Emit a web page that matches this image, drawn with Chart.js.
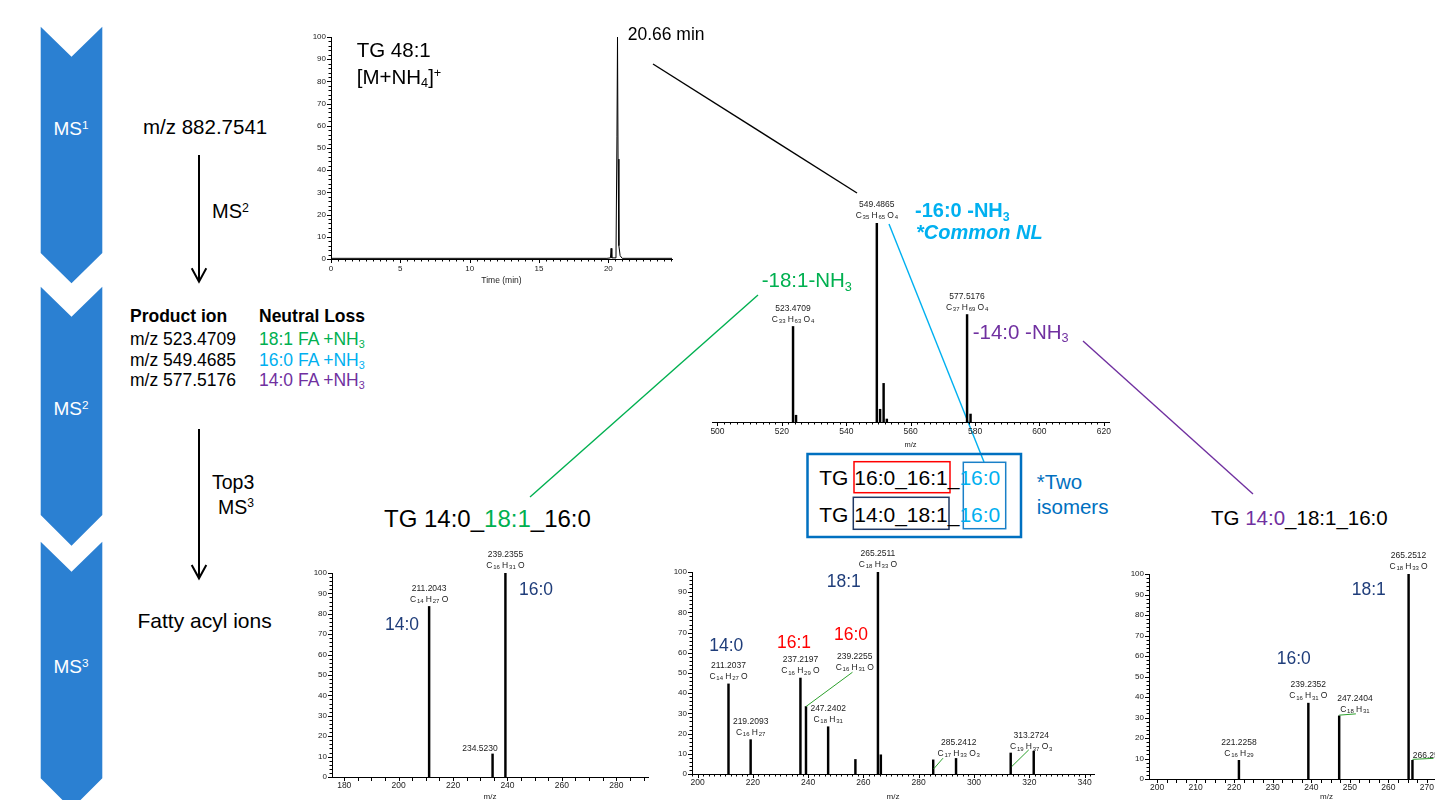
<!DOCTYPE html>
<html>
<head>
<meta charset="utf-8">
<script src="https://cdn.jsdelivr.net/npm/chart.js@4.4.1/dist/chart.umd.min.js"></script>
<style>
  body { margin: 0; background: #fff; }
  #fig { position: relative; width: 1435px; height: 800px; overflow: hidden;
         font-family: "Liberation Sans", Arial, sans-serif; }
  .t { position: absolute; white-space: nowrap; line-height: 1; color: #000; }
  canvas { position: absolute; }
  svg { position: absolute; left: 0; top: 0; }
  sub, sup { font-size: 0.62em; vertical-align: baseline; position: relative; }
  sub { top: 0.3em; }
  sup { top: -0.5em; }
  .w { color: #fff; width: 62px; text-align: center; left: 40px; }
  .g { color: #00b050; }
  .lb { color: #00b0f0; }
  .pu { color: #7030a0; }
  .nv { color: #1f3d7a; }
  .rd { color: #ff0000; }
  .bl { color: #0070c0; }
</style>
</head>
<body>
<div id="fig">
  <svg width="1435" height="800">
    <!-- workflow chevrons -->
    <polygon fill="#2b80d2" points="40.7,26.7 71.5,56.7 102.3,26.7 102.3,253 71.5,283.3 40.7,253"/>
    <polygon fill="#2b80d2" points="40.7,286.7 71.5,316.7 102.3,286.7 102.3,515 71.5,545.7 40.7,515"/>
    <polygon fill="#2b80d2" points="40.7,541.7 71.5,571.7 102.3,541.7 102.3,778.3 71.5,809 40.7,778.3"/>
    <!-- arrows -->
    <g stroke="#000" stroke-width="2" fill="none">
      <line x1="199" y1="155" x2="199" y2="281"/>
      <polyline points="191.7,268.3 199,281.7 206.3,268.3"/>
      <line x1="199" y1="429" x2="199" y2="578"/>
      <polyline points="191.7,565 199,578.3 206.3,565"/>
    </g>
    <!-- connectors -->
    <line x1="653" y1="64" x2="857" y2="193" stroke="#000" stroke-width="1.4"/>
    <line x1="889" y1="224" x2="984" y2="462" stroke="#00b0f0" stroke-width="1.4"/>
    <line x1="758" y1="295" x2="530" y2="497" stroke="#00b050" stroke-width="1.4"/>
    <line x1="1083" y1="341" x2="1253" y2="494" stroke="#7030a0" stroke-width="1.4"/>
    <!-- isomer box -->
    <rect x="807.5" y="454" width="213.5" height="83" fill="none" stroke="#0070c0" stroke-width="2.5"/>
    <rect x="854" y="461.7" width="96" height="31" fill="none" stroke="#ff0000" stroke-width="1.5"/>
    <rect x="853.3" y="497.3" width="95.7" height="32" fill="none" stroke="#1f3864" stroke-width="1.5"/>
    <rect x="963.3" y="462.3" width="42.4" height="66.4" fill="none" stroke="#1a80c8" stroke-width="1.5"/>
  </svg>

  <canvas id="rtChart" width="383" height="262" style="left:301px;top:27px"></canvas>
  <canvas id="ms2Chart" width="419" height="257" style="left:702px;top:193px"></canvas>
  <canvas id="ms3aChart" width="358" height="269" style="left:302px;top:538px"></canvas>
  <canvas id="ms3bChart" width="444" height="267" style="left:662px;top:537px"></canvas>
  <canvas id="ms3cChart" width="397" height="270" style="left:1119px;top:539px"></canvas>

  <!-- chevron labels -->
  <div class="t w" style="top:119px;font-size:19px">MS<sup>1</sup></div>
  <div class="t w" style="top:399px;font-size:19px">MS<sup>2</sup></div>
  <div class="t w" style="top:657px;font-size:19px">MS<sup>3</sup></div>

  <!-- workflow text -->
  <div class="t" style="left:143px;top:116.5px;font-size:20.5px">m/z 882.7541</div>
  <div class="t" style="left:212px;top:201px;font-size:20px">MS<sup>2</sup></div>
  <div class="t" style="left:130px;top:308px;font-size:17.5px;font-weight:bold">Product ion</div>
  <div class="t" style="left:259px;top:308px;font-size:17.5px;font-weight:bold">Neutral Loss</div>
  <div class="t" style="left:130px;top:331px;font-size:17.5px">m/z 523.4709</div>
  <div class="t" style="left:130px;top:351.5px;font-size:17.5px">m/z 549.4685</div>
  <div class="t" style="left:130px;top:372px;font-size:17.5px">m/z 577.5176</div>
  <div class="t g" style="left:259px;top:331px;font-size:17.5px">18:1 FA +NH<sub>3</sub></div>
  <div class="t lb" style="left:259px;top:351.5px;font-size:17.5px">16:0 FA +NH<sub>3</sub></div>
  <div class="t pu" style="left:259px;top:372px;font-size:17.5px">14:0 FA +NH<sub>3</sub></div>
  <div class="t" style="left:212px;top:473px;font-size:19.5px">Top3</div>
  <div class="t" style="left:218px;top:497.5px;font-size:19.5px">MS<sup>3</sup></div>
  <div class="t" style="left:137.5px;top:609.5px;font-size:21px">Fatty acyl ions</div>

  <!-- chromatogram / MS2 annotations -->
  <div class="t" style="left:356.7px;top:39.8px;font-size:20.5px">TG 48:1</div>
  <div class="t" style="left:356.7px;top:66.5px;font-size:20.5px">[M+NH<sub>4</sub>]<sup>+</sup></div>
  <div class="t" style="left:627.7px;top:26.3px;font-size:17.5px">20.66 min</div>
  <div class="t lb" style="left:915px;top:200px;font-size:20px;font-weight:bold">-16:0 -NH<sub>3</sub></div>
  <div class="t lb" style="left:916px;top:221.7px;font-size:20px;font-weight:bold;font-style:italic">*Common NL</div>
  <div class="t g" style="left:761.7px;top:269.8px;font-size:20.5px">-18:1-NH<sub>3</sub></div>
  <div class="t pu" style="left:972.7px;top:321.5px;font-size:20.5px">-14:0 -NH<sub>3</sub></div>

  <!-- species -->
  <div class="t" style="left:384px;top:507px;font-size:24px">TG 14:0_<span class="g">18:1</span>_16:0</div>
  <div class="t" style="left:1211px;top:508px;font-size:20.5px">TG <span class="pu">14:0</span>_18:1_16:0</div>
  <div class="t" style="left:819.3px;top:467.2px;font-size:21px">TG 16:0_16:1_<span class="lb">16:0</span></div>
  <div class="t" style="left:819.3px;top:503.5px;font-size:21px">TG 14:0_18:1_<span class="lb">16:0</span></div>
  <div class="t bl" style="left:1036.7px;top:471.5px;font-size:20.5px">*Two</div>
  <div class="t bl" style="left:1036.7px;top:496.5px;font-size:20.5px">isomers</div>

  <!-- fatty acyl tags -->
  <div class="t nv" style="left:385px;top:615.5px;font-size:17.5px">14:0</div>
  <div class="t nv" style="left:519px;top:581.3px;font-size:17.5px">16:0</div>
  <div class="t nv" style="left:709.3px;top:637px;font-size:17.5px">14:0</div>
  <div class="t rd" style="left:777px;top:633.6px;font-size:17.5px">16:1</div>
  <div class="t rd" style="left:834px;top:626.3px;font-size:17.5px">16:0</div>
  <div class="t nv" style="left:826.7px;top:573px;font-size:17.5px">18:1</div>
  <div class="t nv" style="left:1351.7px;top:581.3px;font-size:17.5px">18:1</div>
  <div class="t nv" style="left:1276.7px;top:650.3px;font-size:17.5px">16:0</div>
</div>

<script>
// ---- data ----
const rtMin = [0, 19.9, 20.15, 20.2, 20.25, 20.55, 20.62, 20.66, 20.7, 20.76, 20.85, 21.0, 24.59];
const rtInt = [0.3, 0.3, 0.5, 4.8, 0.5, 0.5, 55, 100, 45, 6, 1.5, 0.3, 0.3];
const rtTicks = [0, 5, 10, 15, 20];
const intTicks = [0, 10, 20, 30, 40, 50, 60, 70, 80, 90, 100];

const ms2Mz = [523.47, 524.4, 549.49, 550.5, 551.6, 552.6, 577.52, 578.6];
const ms2Int = [48, 3.4, 100, 6.4, 19.4, 1.5, 54, 4];
const ms2Ticks = [500, 520, 540, 560, 580, 600, 620];
const ms2Labels = [
  { mz: 523.47, mass: '523.4709', formula: 'C33H63O4' },
  { mz: 549.49, mass: '549.4865', formula: 'C35H65O4' },
  { mz: 577.52, mass: '577.5176', formula: 'C37H69O4' }
];

const ms3aMz = [211.20, 234.52, 239.24];
const ms3aInt = [83.6, 11.3, 100];
const ms3aTicks = [180, 200, 220, 240, 260, 280];
const ms3aLabels = [
  { mz: 211.20, mass: '211.2043', formula: 'C14H27O' },
  { mz: 234.52, mass: '234.5230', formula: '' },
  { mz: 239.24, mass: '239.2355', formula: 'C16H31O' }
];

const ms3bMz = [211.20, 219.21, 237.22, 239.23, 247.24, 257.1, 265.25, 266.3, 285.24, 293.5, 313.27, 321.6];
const ms3bInt = [44.6, 17, 47.5, 33.4, 23.4, 7.2, 100, 9.5, 7, 7.7, 10.4, 11.3];
const ms3bTicks = [200, 220, 240, 260, 280, 300, 320, 340];
const ms3bLabels = [
  { mz: 211.20, mass: '211.2037', formula: 'C14H27O' },
  { mz: 219.21, mass: '219.2093', formula: 'C16H27' },
  { mz: 237.22, mass: '237.2197', formula: 'C16H29O' },
  { mz: 239.23, mass: '239.2255', formula: 'C16H31O' },
  { mz: 247.24, mass: '247.2402', formula: 'C18H31' },
  { mz: 265.25, mass: '265.2511', formula: 'C18H33O' },
  { mz: 285.24, mass: '285.2412', formula: 'C17H33O3' },
  { mz: 313.27, mass: '313.2724', formula: 'C19H37O3' }
];

const ms3cMz = [221.23, 239.24, 247.24, 265.25, 266.25];
const ms3cInt = [9.1, 37, 30.8, 100, 9.1];
const ms3cTicks = [200, 210, 220, 230, 240, 250, 260, 270, 280, 290];
const ms3cLabels = [
  { mz: 221.23, mass: '221.2258', formula: 'C16H29' },
  { mz: 239.24, mass: '239.2352', formula: 'C16H31O' },
  { mz: 247.24, mass: '247.2404', formula: 'C18H31' },
  { mz: 265.25, mass: '265.2512', formula: 'C18H33O' },
  { mz: 266.25, mass: '266.2546', formula: '' }
];

// label placement tweaks (pixels), leader lines drawn in green
const labelShift = {
  '239.2255': { dx: 48.8, dy: -32, leader: [0, 0, 46.5, -34.3] },
  '285.2412': { dx: 25.5, dy: 0.3, leader: [0.5, 9, 9.8, -1.7] },
  '313.2724': { dx: 20.5, dy: 1.1, leader: [1.1, 13.5, 18.1, -3.2] },
  '234.5230': { dx: -12.6, dy: 0 },
  '247.2404': { dx: 15.7, dy: 0.3, leader: [0, -0.7, 16.7, -2] },
  '266.2546': { dx: 18, dy: 0, leader: [0, -1, 21, -2] }
};

const FONT = '"Liberation Sans", Arial, sans-serif';
Chart.defaults.font.family = FONT;
Chart.defaults.color = '#222';

function drawFormula(ctx, f, cx, cy) {
  const parts = f.match(/[A-Z][a-z]?|\d+/g);
  const big = '8.5px ' + FONT, small = '6px ' + FONT;
  const ws = [];
  let total = 0;
  parts.forEach((p, i) => {
    const isNum = /\d/.test(p);
    ctx.font = isNum ? small : big;
    const pw = ctx.measureText(p).width;
    let gap = 0;
    if (i < parts.length - 1) gap = isNum ? 2.2 : (/\d/.test(parts[i + 1]) ? 0.8 : 2.2);
    ws.push([pw, gap]);
    total += pw + gap;
  });
  let x = cx - total / 2;
  ctx.textAlign = 'left';
  parts.forEach((p, i) => {
    const isNum = /\d/.test(p);
    ctx.font = isNum ? small : big;
    ctx.fillText(p, x, cy + (isNum ? 1.8 : 0));
    x += ws[i][0] + ws[i][1];
  });
}

function peakLabelPlugin(labels, mzArr, intArr) {
  return {
    id: 'peakLabels',
    afterDatasetsDraw(chart) {
      const { ctx } = chart;
      const xs = chart.scales.x, ys = chart.scales.y;
      ctx.save();
      labels.forEach(l => {
        const i = mzArr.indexOf(l.mz);
        const px = xs.getPixelForValue(l.mz);
        const py = ys.getPixelForValue(intArr[i]);
        const s = labelShift[l.mass] || { dx: 0, dy: 0 };
        if (s.leader) {
          ctx.strokeStyle = '#2ca02c';
          ctx.lineWidth = 1;
          ctx.beginPath();
          ctx.moveTo(px + s.leader[0], py + s.leader[1]);
          ctx.lineTo(px + s.leader[2], py + s.leader[3]);
          ctx.stroke();
        }
        const ax = px + s.dx, ay = py + s.dy;
        ctx.fillStyle = '#222';
        ctx.textBaseline = 'middle';
        ctx.textAlign = 'center';
        ctx.font = '8.5px ' + FONT;
        if (l.formula) {
          ctx.fillText(l.mass, ax, ay - 18);
          drawFormula(ctx, l.formula, ax, ay - 7);
        } else {
          ctx.fillText(l.mass, ax, ay - 5);
        }
      });
      ctx.restore();
    }
  };
}

// major/minor tick marks pointing out of the plot
function tickMarkPlugin(t) {
  return {
    id: 'tickMarks',
    afterDraw(chart) {
      const { ctx, chartArea: a } = chart;
      const xs = chart.scales.x, ys = chart.scales.y;
      ctx.save();
      ctx.strokeStyle = '#000';
      ctx.lineWidth = 1;
      ctx.beginPath();
      const k0 = Math.ceil(xs.min / t.xMinor - 1e-9), k1 = Math.floor(xs.max / t.xMinor + 1e-9);
      for (let k = k0; k <= k1; k++) {
        const v = k * t.xMinor;
        const major = Math.abs(v / t.xMajor - Math.round(v / t.xMajor)) < 1e-6;
        const px = Math.round(xs.getPixelForValue(v)) + 0.5;
        ctx.moveTo(px, a.bottom);
        ctx.lineTo(px, a.bottom + (major ? 4 : t.xMinorLen));
      }
      if (t.yMinor) {
        for (let v = 0; v <= 100; v += t.yMinor) {
          const major = v % 10 === 0;
          const py = Math.round(ys.getPixelForValue(v)) + 0.5;
          ctx.moveTo(a.left, py);
          ctx.lineTo(a.left - (major ? 4 : 2.5), py);
        }
      }
      ctx.stroke();
      ctx.restore();
    }
  };
}

function xAxis(c) {
  return {
    type: 'linear', min: c.xMin, max: c.xMax, offset: false,
    grid: { display: false, drawTicks: false },
    border: { display: true, color: '#000', width: 1 },
    afterBuildTicks: s => { s.ticks = c.ticks.map(v => ({ value: v })); },
    afterFit: s => { s.height = c.xHeight; },
    ticks: { font: { size: c.xFont }, color: '#222', padding: c.tickPad, maxRotation: 0, autoSkip: false, callback: v => String(v) },
    title: { display: true, text: c.title, font: { size: c.titleFont }, color: '#222', padding: { top: 0, bottom: c.titlePad } }
  };
}

function yAxis(show) {
  return {
    display: show, min: 0, max: 100,
    grid: { display: false, drawTicks: false },
    border: { display: true, color: '#000', width: 1 },
    afterBuildTicks: s => { s.ticks = intTicks.map(v => ({ value: v })); },
    afterFit: s => { s.width = show ? 30 : 0; },
    ticks: { font: { size: 8 }, color: '#222', padding: 5, autoSkip: false, callback: v => String(v) }
  };
}

function spectrum(id, mz, inten, labels, c) {
  new Chart(document.getElementById(id), {
    type: 'bar',
    data: {
      datasets: [{
        data: mz.map((m, i) => ({ x: m, y: inten[i] })),
        backgroundColor: '#000',
        borderWidth: 0,
        barThickness: 1.8
      }]
    },
    options: {
      responsive: false,
      animation: false,
      events: [],
      layout: { padding: { top: c.padTop, right: 12, left: c.padLeft, bottom: 0 } },
      plugins: { legend: { display: false }, tooltip: { enabled: false } },
      scales: { x: xAxis(c), y: yAxis(c.showY) }
    },
    plugins: [tickMarkPlugin(c.marks), peakLabelPlugin(labels, mz, inten)]
  });
}

// chromatogram
new Chart(document.getElementById('rtChart'), {
  type: 'line',
  data: {
    datasets: [{
      data: rtMin.map((t, i) => ({ x: t, y: rtInt[i] })),
      borderColor: '#000',
      borderWidth: 1,
      pointRadius: 0,
      tension: 0
    }]
  },
  options: {
    responsive: false,
    animation: false,
    events: [],
    layout: { padding: { top: 10, right: 12, left: 0, bottom: 0 } },
    plugins: { legend: { display: false }, tooltip: { enabled: false } },
    scales: {
      x: xAxis({ xMin: 0, xMax: 24.59, ticks: rtTicks, xHeight: 30, xFont: 8, tickPad: 5,
                 title: 'Time (min)', titleFont: 8.5, titlePad: 3 }),
      y: yAxis(true)
    }
  },
  plugins: [tickMarkPlugin({ xMinor: 0.5, xMajor: 5, xMinorLen: 2.5, yMinor: 2 })]
});

spectrum('ms2Chart', ms2Mz, ms2Int, ms2Labels, {
  xMin: 498.3, xMax: 621.6, ticks: ms2Ticks, xHeight: 28, xFont: 8.5, tickPad: 5,
  title: 'm/z', titleFont: 7.5, titlePad: 1, padTop: 30, padLeft: 10, showY: false,
  marks: { xMinor: 2, xMajor: 20, xMinorLen: 2.5, yMinor: 0 }
});

spectrum('ms3aChart', ms3aMz, ms3aInt, ms3aLabels, {
  xMin: 175.5, xMax: 291.65, ticks: ms3aTicks, xHeight: 30, xFont: 8.5, tickPad: 4,
  title: 'm/z', titleFont: 8, titlePad: 5, padTop: 35, padLeft: 0, showY: true,
  marks: { xMinor: 5, xMajor: 20, xMinorLen: 4, yMinor: 2 }
});

spectrum('ms3bChart', ms3bMz, ms3bInt, ms3bLabels, {
  xMin: 198.0, xMax: 343.4, ticks: ms3bTicks, xHeight: 30, xFont: 8.5, tickPad: 4,
  title: 'm/z', titleFont: 8, titlePad: 2, padTop: 35, padLeft: 0, showY: true,
  marks: { xMinor: 2, xMajor: 20, xMinorLen: 2.5, yMinor: 2 }
});

spectrum('ms3cChart', ms3cMz, ms3cInt, ms3cLabels, {
  xMin: 197.9, xMax: 290.0, ticks: ms3cTicks, xHeight: 30, xFont: 8.5, tickPad: 4,
  title: 'm/z', titleFont: 8, titlePad: 7, padTop: 35, padLeft: 0, showY: true,
  marks: { xMinor: 2.5, xMajor: 10, xMinorLen: 4, yMinor: 2 }
});
</script>
</body>
</html>
